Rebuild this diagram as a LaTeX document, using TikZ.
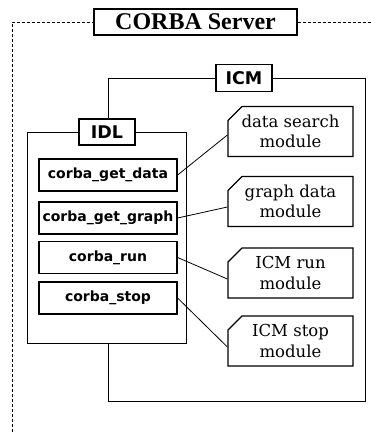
\documentclass[tikz,border=0pt]{standalone}
\usepackage{fontspec}
\setmainfont{DejaVu Serif}
\newfontfamily\labelsans{DejaVu Sans}
\newfontfamily\titleserif{Liberation Serif}
\usetikzlibrary{shapes.misc}

\begin{document}
\begin{tikzpicture}[x=1pt,y=-1pt,
  outline/.style={draw, line width=1pt, inner sep=0pt},
  tag/.style={draw, fill=white, line width=1.2pt, inner sep=0pt,
    font=\labelsans\bfseries\fontsize{17.5}{20}\selectfont},
  fnbox/.style={draw, fill=white, line width=1.2pt, minimum width=138pt,
    minimum height=32pt, inner sep=0pt,
    font=\labelsans\bfseries\fontsize{14}{16}\selectfont},
  module/.style={draw, fill=white, line width=1.2pt, chamfered rectangle,
    chamfered rectangle corners=north west, chamfered rectangle xsep=7pt,
    chamfered rectangle ysep=7pt, minimum width=125pt, minimum height=50pt,
    inner sep=0pt, align=center, font=\fontsize{16.5}{20.5}\selectfont},
  link/.style={draw, line width=0.8pt},
  boundary/.style={draw, line width=0.8pt, dash pattern=on 3pt off 2pt}]

\useasboundingbox (0,0) rectangle (371,432);

% server boundary with its title
\node[draw, fill=white, line width=1.2pt, minimum width=203pt, minimum height=26pt,
  inner sep=0pt, font=\titleserif\bfseries\fontsize{24}{26}\selectfont]
  (server) at (195.5,22) {CORBA Server};
\coordinate (srvbl) at (12,432);
\coordinate (srvtl) at (12,22);
\coordinate (srvtr) at (371,22);
\draw[boundary] (srvbl) -- (srvtl) -- (server.west);
\draw[boundary] (server.east) -- (srvtr);

% ICM container
\node[outline, minimum width=257pt, minimum height=323pt] (icmbox) at (236.5,239.5) {};
\node[tag, minimum width=56pt, minimum height=27pt] (icm) at (244,78) {ICM};

% IDL container
\node[outline, fill=white, minimum width=159pt, minimum height=211pt] (idlbox) at (106.5,237.5) {};
\node[tag, minimum width=56pt, minimum height=26pt] (idl) at (107,132) {IDL};

% IDL operations
\node[fnbox] (f1) at (108,175) {corba\_get\_data};
\node[fnbox] (f2) at (108,218) {corba\_get\_graph};
\node[fnbox] (f3) at (108,257.5) {corba\_run};
\node[fnbox] (f4) at (108,298) {corba\_stop};

% ICM modules
\node[module] (m1) at (290.5,131.5) {data search\\module};
\node[module] (m2) at (290.5,201.5) {graph data\\module};
\node[module] (m3) at (290.5,273) {ICM run\\module};
\node[module] (m4) at (290.5,341) {ICM stop\\module};

% bindings between operations and modules
\draw[link] (f1.east) -- ([yshift=-3.5pt]m1.west);
\draw[link] (f2.east) -- ([yshift=-5.5pt]m2.west);
\draw[link] (f3.east) -- ([yshift=-6pt]m3.west);
\draw[link] (f4.east) -- ([yshift=-6pt]m4.west);
\end{tikzpicture}
\end{document}
